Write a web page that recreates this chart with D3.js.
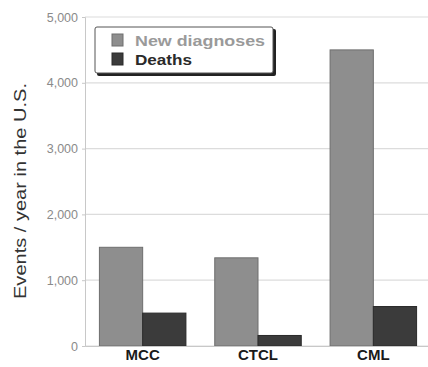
<!DOCTYPE html>
<html><head><meta charset="utf-8">
<script src="https://cdn.jsdelivr.net/npm/d3@7"></script>
<style>body{margin:0;background:#fff}svg{display:block}</style>
</head><body>
<svg id="c" width="428" height="367"></svg>
<script>
const categories = ["MCC", "CTCL", "CML"];
const series = ["New diagnoses", "Deaths"];
const newDiagnoses = [1500, 1340, 4500];
const deaths = [500, 160, 600];
const yTicks = [0, 1000, 2000, 3000, 4000, 5000];
const colors = ["#8e8e8e", "#3b3b3b"];
const strokes = ["#6e6e6e", "#2a2a2a"];

(function () {
const svg = d3.select("#c");
const mLeft = 85, mRight = 431, mTop = 17, mBottom = 346;
const font = "Liberation Sans, Arial, sans-serif";
const x = d3.scaleBand().domain(categories).range([mLeft, mRight]).paddingInner(0.25).paddingOuter(0.125);
const xs = d3.scaleBand().domain(series).range([0, x.bandwidth()]);
const y = d3.scaleLinear().domain([0, 5000]).range([mBottom, mTop]);

// grid
svg.append("g").selectAll("line").data(yTicks).join("line")
  .attr("x1", mLeft).attr("x2", 428).attr("y1", d => y(d)).attr("y2", d => y(d))
  .attr("stroke", "#dcdcdc").attr("stroke-width", 1.2);

// y axis
const ya = svg.append("g").attr("transform", `translate(${mLeft},0)`)
  .call(d3.axisLeft(y).tickValues(yTicks).tickFormat(d3.format(",")).tickSize(3).tickPadding(4));
ya.select(".domain").attr("stroke", "#c8c8c8");
ya.selectAll(".tick line").attr("stroke", "#c8c8c8");
ya.selectAll("text").attr("fill", "#8a8a8a").style("font-family", font).style("font-size", "12.5px");

// bars
const data = categories.map((c, i) => ({c, vals: [newDiagnoses[i], deaths[i]]}));
const g = svg.append("g").selectAll("g").data(data).join("g")
  .attr("transform", d => `translate(${x(d.c)},0)`);
g.selectAll("rect").data(d => d.vals.map((v, j) => ({v, j}))).join("rect")
  .attr("x", d => xs(series[d.j])).attr("width", xs.bandwidth())
  .attr("y", d => y(d.v)).attr("height", d => y(0) - y(d.v))
  .attr("fill", d => colors[d.j]).attr("stroke", d => strokes[d.j]).attr("stroke-width", 1);

// x axis
const xa = svg.append("g").attr("transform", `translate(0,${mBottom})`)
  .call(d3.axisBottom(x).tickSize(0).tickPadding(3));
xa.select(".domain").attr("stroke", "#c8c8c8");
xa.selectAll("text").attr("fill", "#1a1a1a").style("font-family", font)
  .style("font-size", "15px").style("font-weight", "bold");

// y label
svg.append("text").attr("transform", `translate(26,191) rotate(-90)`)
  .attr("text-anchor", "middle").attr("fill", "#333")
  .style("font-family", font).style("font-size", "17px")
  .attr("textLength", 216).attr("lengthAdjust", "spacingAndGlyphs")
  .text("Events / year in the U.S.");

// legend
const lg = svg.append("g").attr("transform", "translate(95,27)");
lg.append("rect").attr("x", 2).attr("y", 2).attr("width", 179).attr("height", 47).attr("rx", 2).attr("fill", "#222");
lg.append("rect").attr("x", 0).attr("y", 0).attr("width", 178).attr("height", 46).attr("rx", 2)
  .attr("fill", "#fff").attr("stroke", "#555").attr("stroke-width", 1);
const tl = [130, 57];
series.forEach((s, i) => {
  lg.append("rect").attr("x", 17).attr("y", 7 + i * 19).attr("width", 11).attr("height", 12)
    .attr("fill", colors[i]).attr("stroke", strokes[i]);
  lg.append("text").attr("x", 40).attr("y", 19 + i * 19).text(s)
    .attr("fill", i === 0 ? "#9a9a9a" : "#2a2a2a")
    .attr("textLength", tl[i]).attr("lengthAdjust", "spacingAndGlyphs")
    .style("font-family", font).style("font-size", "15px").style("font-weight", "bold");
});
})();
</script>
</body></html>
